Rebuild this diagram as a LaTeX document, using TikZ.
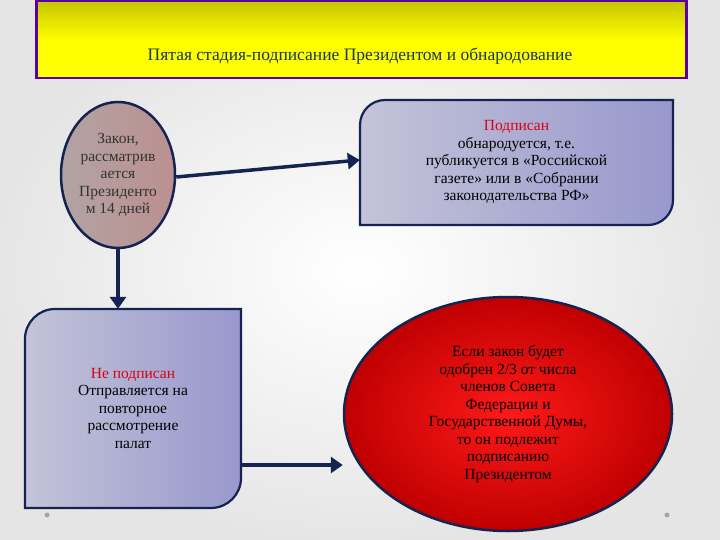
\documentclass[tikz,border=0pt]{standalone}
\usepackage{fontspec}
\setmainfont{Liberation Serif}
\usetikzlibrary{arrows.meta,shapes.geometric}
\definecolor{navy}{RGB}{20,35,80}
\definecolor{ttl}{RGB}{25,55,80}
\definecolor{redt}{RGB}{220,0,20}
\tikzset{
 conn/.style={draw=navy,line width=3.5pt,-{Triangle[length=12pt,width=16pt]}},
 boxtext/.style={align=center,font=\fontsize{15.5}{17.5}\selectfont,text=black},
 bluebox/.style={draw=navy,line width=2.2pt,left color=white!88!blue!70!gray,right color=blue!35!gray!60!white}
}
\begin{document}
\begin{tikzpicture}[x=1pt,y=-1pt]
\useasboundingbox (0,0) rectangle (720,540);
\fill[inner color=white,outer color=gray!20] (0,0) rectangle (720,540);
% title
\node[draw=violet!70!blue,line width=2.5pt,top color=yellow!55!olive,bottom color=yellow,middle color=yellow,minimum width=650pt,minimum height=77pt,anchor=north west,inner sep=0pt] (title) at (35,0) {};
\node[text=ttl,font=\fontsize{17.5}{20}\selectfont] (tt) at (360,56) {Пятая стадия-подписание Президентом и обнародование};
% circle
\node[ellipse,draw=navy,line width=2.5pt,minimum width=114pt,minimum height=146pt,left color=white!85!red!40!gray,right color=red!25!gray!70!white,boxtext,text=black!80,inner sep=0pt] (law) at (118,175) {Закон,\\рассматрив\\ается\\Президенто\\м 14 дней};
% top right box
\node[minimum width=313pt,minimum height=125pt,inner sep=0pt] (pub) at (516.5,162.5) {};
\path[bluebox] (385,100) -- (673,100) -- (673,200) arc(0:90:25) -- (360,225) -- (360,125) arc(180:270:25) -- cycle;
\node[boxtext] (pubt) at (516.5,162) {\textcolor{redt}{Подписан}\\обнародуется, т.е.\\публикуется в «Российской\\газете» или в «Собрании\\законодательства РФ»};
% bottom left box
\node[minimum width=216pt,minimum height=199pt,inner sep=0pt] (ns) at (133,408.5) {};
\path[bluebox] (55,309) -- (241,309) -- (241,478) arc(0:90:30) -- (25,508) -- (25,339) arc(180:270:30) -- cycle;
\node[boxtext] (nst) at (133,408) {\textcolor{redt}{Не подписан}\\Отправляется на\\повторное\\рассмотрение\\палат};
% red circle
\node[ellipse,draw=navy,line width=2.5pt,minimum width=328pt,minimum height=234pt,inner color=red!90!white,outer color=red!75!black,boxtext,inner sep=0pt] (red) at (508,414) {Если закон будет\\одобрен 2/3 от числа\\членов Совета\\Федерации и\\Государственной Думы,\\то он подлежит\\подписанию\\Президентом};
% arrows
\draw[conn] ([yshift=-2pt]law.east) -- (pub.west |- 0,160);
\draw[conn] (law.south) -- (ns.north -| law.south);
\draw[conn] (ns.east |- 0,465) -- (red.west |- 0,465);
% dots
\fill[gray!70] (47,515) circle (2.5);
\fill[gray!70] (667,515) circle (2.5);
\end{tikzpicture}
\end{document}
